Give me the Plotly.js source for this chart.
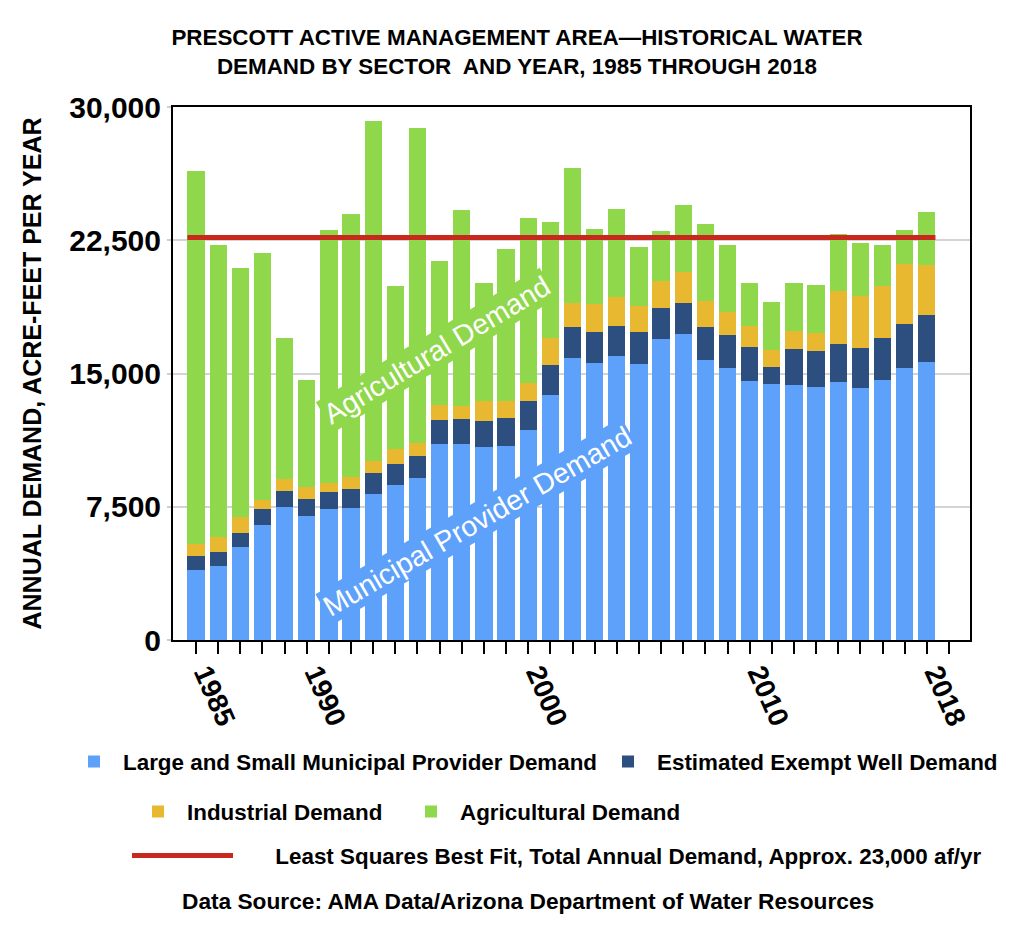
<!DOCTYPE html>
<html>
<head>
<meta charset="utf-8">
<script src="https://cdn.plot.ly/plotly-3.0.1.min.js"></script>
<style>html,body{margin:0;padding:0;background:#fff;}#chart{width:1018px;height:949px;}</style>
</head>
<body>
<div id="chart"></div>
<script>
// ---- data (acre-feet per year) ----
const years = [1985,1986,1987,1988,1989,1990,1991,1992,1993,1994,1995,1996,1997,1998,1999,2000,2001,2002,2003,2004,2005,2006,2007,2008,2009,2010,2011,2012,2013,2014,2015,2016,2017,2018];
const municipal = [3950,4170,5210,6460,7480,6970,7380,7440,8230,8710,9100,11050,11040,10840,10940,11820,13800,15870,15580,15990,15540,16940,17230,15770,15320,14590,14430,14370,14230,14530,14170,14630,15320,15670];
const exemptWell = [790,810,830,890,930,970,970,1070,1160,1220,1280,1360,1380,1500,1560,1660,1660,1720,1740,1700,1780,1760,1760,1840,1840,1880,950,2030,2010,2150,2290,2370,2490,2650];
const industrial = [670,830,910,530,630,670,490,690,670,810,710,790,750,1090,970,970,1520,1400,1600,1600,1480,1500,1700,1460,1300,1220,930,1010,1050,2980,2880,2920,3360,2800];
const agricultural = [20980,16440,14000,13920,7960,6040,14250,14770,19150,9200,17750,8130,11030,6670,8530,9320,6550,7600,4220,4990,3300,2820,3810,4340,3790,2410,2700,2680,2670,3200,3020,2310,1900,2980];
const fitX = [1984.61, 2018.39];
const fitY = [22650, 22650];
const tickYears = [1985,1986,1987,1988,1989,1990,1991,1992,1993,1994,1995,1996,1997,1998,1999,2000,2001,2002,2003,2004,2005,2006,2007,2008,2009,2010,2011,2012,2013,2014,2015,2016,2017,2018,2019];
const tickLabels = ['1985','','','','','1990','','','','','','','','','','2000','','','','','','','','','','2010','','','','','','','','2018',''];
const yTicks = [0,7500,15000,22500,30000];
const names = ['Large and Small Municipal Provider Demand','Estimated Exempt Well Demand','Industrial Demand','Agricultural Demand','Least Squares Best Fit, Total Annual Demand, Approx. 23,000 af/yr'];

// ---- styling ----
const FONT = 'Liberation Sans, Arial, Helvetica, sans-serif';
const colors = ['#5ea1fb','#2d4f7f','#e8b830','#8fd74b','#c9281f'];
const BW = 0.78;

const traces = [
  {type:'bar', x:years, y:municipal, name:names[0], marker:{color:colors[0]}, width:BW, legend:'legend'},
  {type:'bar', x:years, y:exemptWell, name:names[1], marker:{color:colors[1]}, width:BW, legend:'legend2'},
  {type:'bar', x:years, y:industrial, name:names[2], marker:{color:colors[2]}, width:BW, legend:'legend3'},
  {type:'bar', x:years, y:agricultural, name:names[3], marker:{color:colors[3]}, width:BW, legend:'legend4'},
  {type:'scatter', mode:'lines', x:fitX, y:fitY, name:'\u00a0\u00a0\u00a0\u00a0\u00a0\u00a0' + names[4], line:{color:colors[4], width:5}, legend:'legend5'}
];

// plot area: x 173..970, y 107..640
const L = 173, R = 970, T = 107, B = 640;
const px = v => (v - L) / (R - L);
const py = v => (B - v) / (B - T);
const legFont = {family:FONT, size:22.4, color:'#000', weight:'bold'};
function leg(left, centerY, w){
  return {x:px(left), y:py(centerY), xref:'paper', yref:'paper', xanchor:'left', yanchor:'middle',
          bgcolor:'rgba(0,0,0,0)', borderwidth:0, font:legFont, itemwidth:w, orientation:'h'};
}

const layout = {
  width:1018, height:949,
  margin:{l:L, r:1018-R, t:T, b:949-B, pad:0},
  paper_bgcolor:'#fff', plot_bgcolor:'#fff',
  barmode:'stack',
  showlegend:true,
  font:{family:FONT, color:'#000'},
  title:{
    text:'PRESCOTT ACTIVE MANAGEMENT AREA\u2014HISTORICAL WATER<br>DEMAND BY SECTOR\u00a0 AND YEAR, 1985 THROUGH 2018',
    font:{family:FONT, size:22.4, color:'#000', weight:'bold'},
    x:517/1018, xref:'container', xanchor:'center',
    y:1-45/949, yref:'container', yanchor:'top'
  },
  xaxis:{
    range:[1983.96, 2019.95], fixedrange:true,
    tickmode:'array', tickvals:tickYears, ticktext:tickLabels,
    ticks:'outside', ticklen:12, tickwidth:2, tickcolor:'#000',
    tickangle:66, ticklabelstandoff:-8, ticklabelshift:10,
    tickfont:{family:FONT, size:28, color:'#000', weight:'bold'},
    showgrid:false, zeroline:false,
    showline:true, linecolor:'#000', linewidth:2, mirror:true
  },
  yaxis:{
    range:[0, 30000], fixedrange:true,
    tickmode:'array', tickvals:yTicks, tickformat:',d',
    ticks:'outside', ticklen:4, tickwidth:2, tickcolor:'#cfcfcf',
    tickfont:{family:FONT, size:30, color:'#000', weight:'bold'},
    showgrid:true, gridcolor:'#d4d4d4', gridwidth:2,
    zeroline:false,
    showline:true, linecolor:'#000', linewidth:2, mirror:true,
    title:{text:'ANNUAL DEMAND, ACRE-FEET PER YEAR', font:{family:FONT, size:25, color:'#000', weight:'bold'}, standoff:20}
  },
  legend: leg(65, 762, 48),
  legend2: leg(599, 762, 48),
  legend3: leg(129, 812, 48),
  legend4: leg(402, 812, 48),
  legend5: leg(127, 856, 101),
  annotations:[
    {text:'Agricultural Demand', x:1995.87, y:16300, xref:'x', yref:'y', showarrow:false,
     textangle:-31, font:{family:FONT, size:28.5, color:'#fff'}, bgcolor:colors[3], borderpad:1,
     xanchor:'center', yanchor:'middle'},
    {text:'Municipal Provider Demand', x:1997.7, y:6700, xref:'x', yref:'y', showarrow:false,
     textangle:-30, font:{family:FONT, size:28.5, color:'#fff'}, bgcolor:colors[0], borderpad:1,
     xanchor:'center', yanchor:'middle'},
    {text:'Data Source: AMA Data/Arizona Department of Water Resources', x:px(528), y:py(901),
     xref:'paper', yref:'paper', showarrow:false, xanchor:'center', yanchor:'middle',
     font:{family:FONT, size:22.7, color:'#000', weight:'bold'}}
  ]
};

Plotly.newPlot('chart', traces, layout, {displayModeBar:false, staticPlot:true});
</script>
</body>
</html>
